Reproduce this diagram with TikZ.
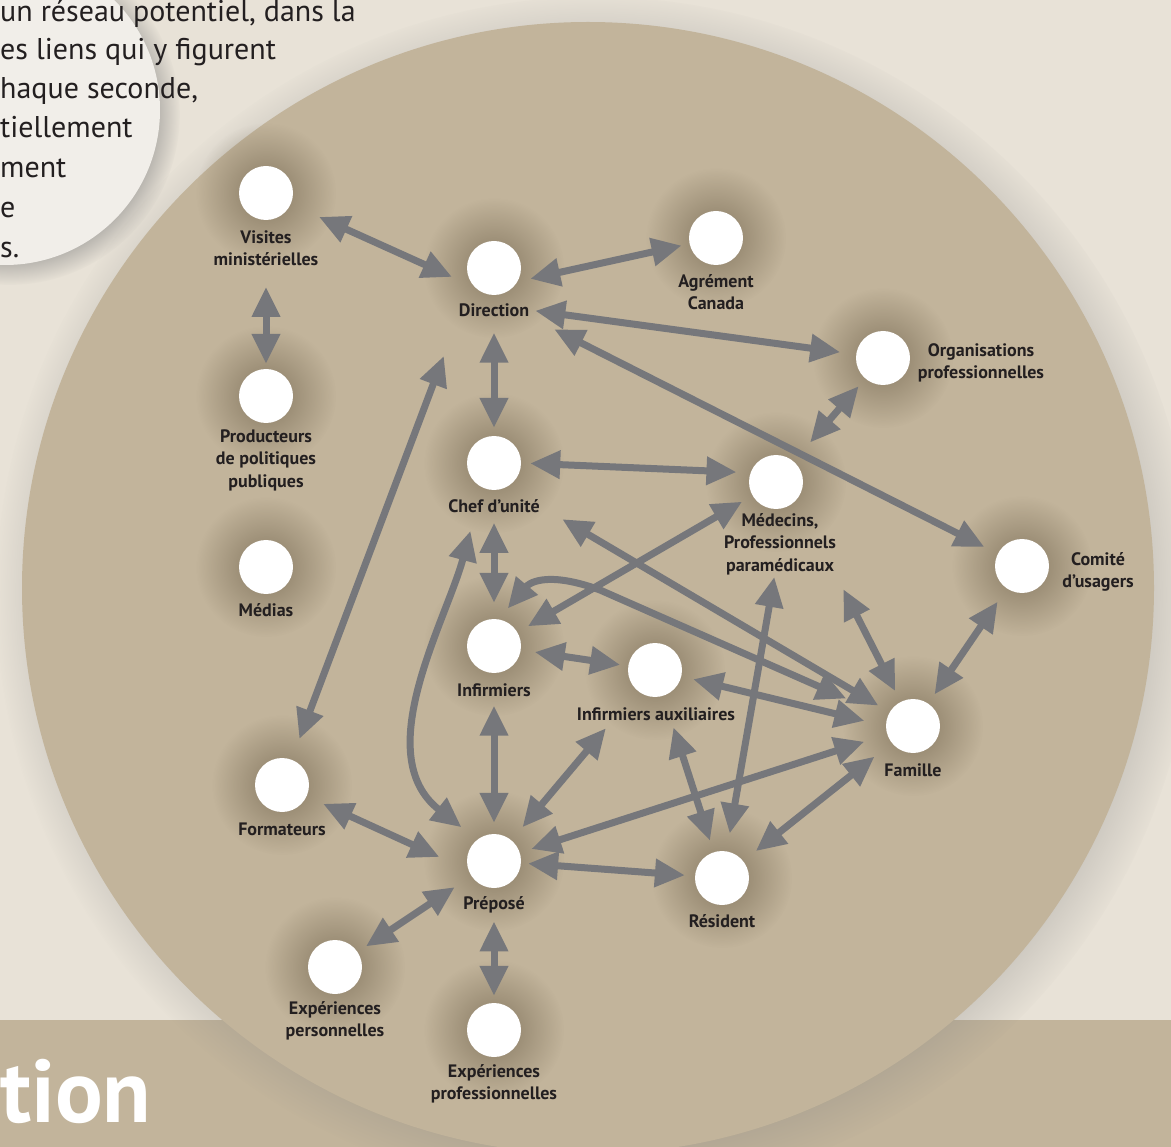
\documentclass[tikz,border=0pt]{standalone}
\usepackage{fontspec}
\setmainfont{PT Sans}
\usetikzlibrary{arrows.meta,shadows,fadings}

\definecolor{paper}{RGB}{232,226,215}
\definecolor{bubble}{RGB}{241,238,233}
\definecolor{sand}{RGB}{194,180,155}
\definecolor{halo}{RGB}{95,82,60}
\definecolor{arrowgray}{RGB}{118,119,123}
\definecolor{ink}{RGB}{35,31,32}

\tikzfading[name=soft halo, inner color=transparent!0, outer color=transparent!100]

\begin{document}
\begin{tikzpicture}[x=1pt, y=-1pt,
    >={Triangle[length=30pt, width=27pt]},
    ball/.style={circle, fill=white, minimum size=54pt, inner sep=0pt,
      general shadow={shadow scale=2.6, fill=halo, opacity=0.6, path fading=soft halo}},
    tag/.style={font=\fontsize{18}{22.5}\selectfont\bfseries, text=ink, align=center, inner sep=0pt},
    link/.style={<->, draw=arrowgray, line width=7pt},
    intro/.style={font=\fontsize{30}{40}\selectfont, text=ink, anchor=base west, inner sep=0pt}]
        % \draw[help lines, gray!40, very thin] (0,0) grid[step=50] (1171,1147);
        \useasboundingbox (0,0) rectangle (1171,1147);
        \clip (0,0) rectangle (1171,1147);

        \fill[paper] (0,0) rectangle (1171,1147);
        \fill[sand] (0,1020) rectangle (1171,1147);
        \node[text=white, font=\fontsize{89}{95}\selectfont\bfseries, anchor=base west, inner sep=0pt] (title) at (0,1122) {tion};

        \fill[bubble, circular drop shadow={shadow scale=1.1, shadow xshift=4pt, shadow yshift=-4pt, opacity=0.5}] (5,110) circle (155);
        \node[intro] (t1) at (0,22) {un réseau potentiel, dans la};
        \node[intro] (t2) at (0,60) {es liens qui y figurent};
        \node[intro] (t3) at (0,99) {haque seconde,};
        \node[intro] (t4) at (0,138) {tiellement};
        \node[intro] (t5) at (0,178) {ment};
        \node[intro] (t6) at (0,218) {e};
        \node[intro] (t7) at (0,258) {s.};

        \fill[sand, circular drop shadow={shadow scale=1.06, shadow xshift=8pt, shadow yshift=-6pt, opacity=0.45}] (588,588) circle (566);

        \node[ball] (vis) at (266,193) {};
        \node[tag] (visl) at (266,248) {Visites\\ministérielles};
        \node[ball] (dir) at (494,268) {};
        \node[tag] (dirl) at (494,310) {Direction};
        \node[ball] (agr) at (716,238) {};
        \node[tag] (agrl) at (716,292) {Agrément\\Canada};
        \node[ball] (org) at (883,358) {};
        \node[tag] (orgl) at (981,363) {Organisations\\professionnelles};
        \node[ball] (prod) at (266,396) {};
        \node[tag] (prodl) at (266,460) {Producteurs\\de politiques\\publiques};
        \node[ball] (chef) at (494,463) {};
        \node[tag] (chefl) at (494,506) {Chef d’unité};
        \node[ball] (med) at (776,482) {};
        \node[tag] (medl) at (780,544) {Médecins,\\Professionnels\\paramédicaux};
        \node[ball] (medias) at (266,567) {};
        \node[tag] (mediasl) at (266,610) {Médias};
        \node[ball] (com) at (1022,566) {};
        \node[tag] (coml) at (1098,572) {Comité\\d’usagers};
        \node[ball] (inf) at (494,646) {};
        \node[tag] (infl) at (494,690) {Infirmiers};
        \node[ball] (aux) at (655,670) {};
        \node[tag] (auxl) at (656,714) {Infirmiers auxiliaires};
        \node[ball] (fam) at (913,726) {};
        \node[tag] (faml) at (913,770) {Famille};
        \node[ball] (form) at (282,785) {};
        \node[tag] (forml) at (282,829) {Formateurs};
        \node[ball] (prep) at (494,861) {};
        \node[tag] (prepl) at (494,905) {Préposé};
        \node[ball] (res) at (722,878) {};
        \node[tag] (resl) at (722,921) {Résident};
        \node[ball] (expe) at (335,967) {};
        \node[tag] (expel) at (335,1021) {Expériences\\personnelles};
        \node[ball] (expr) at (494,1030) {};
        \node[tag] (exprl) at (494,1084) {Expériences\\professionnelles};
        \coordinate (bendpt) at (600,590);

        % direction
        \draw[link, shorten <=31pt, shorten >=25pt] (vis) -- (dir.south west);
        \draw[link, shorten <=21pt, shorten >=5pt] (visl) -- (prod);
        \draw[link, shorten <=13pt, shorten >=8pt] (dir.-30) -- (agr);
        \draw[link, shorten <=6pt, shorten >=16pt] (dirl.east) -- (org);
        \draw[link, shorten <=28pt, shorten >=15pt] (dirl.south east) -- (com);
        \draw[link, shorten <=16pt, shorten >=8pt] (dirl) -- (chef);
        \draw[link, shorten <=42pt, shorten >=22pt] (dirl.south west) -- (form);
        \draw[link, shorten <=10pt, shorten >=25pt] (org) -- (med);

        % chef d'unite, infirmiers
        \draw[link, shorten <=9pt, shorten >=14pt] (chef.east) -- (med.160);
        \draw[link, shorten <=10pt, shorten >=16pt] (chefl) -- (inf);
        \draw[link, shorten <=26pt, shorten >=13pt] (chefl.east) -- (fam);
        \draw[link, shorten <=45pt, shorten >=20pt] (chef.244) to[out=255, in=142] (prep.128);
        \draw[link, shorten <=12pt, shorten >=12pt] (med) -- (inf);
        \draw[link, shorten <=14pt, shorten >=45pt] (inf.80) .. controls +(50:45pt) and +(160:60pt) .. (bendpt) -- (fam.160);
        \draw[link, shorten <=16pt, shorten >=12pt] (medl.south east) -- (fam);
        \draw[link, shorten <=16pt, shorten >=11pt] (com) -- (fam);
        \draw[link, shorten <=14pt, shorten >=8pt] (inf) -- (aux);
        \draw[link, shorten <=12pt, shorten >=22pt] (aux) -- (fam.west);
        \draw[link, shorten <=9pt, shorten >=11pt] (infl) -- (prep);

        % prepose, resident
        \draw[link, shorten <=17pt, shorten >=49pt] (prep) -- (aux);
        \draw[link, shorten <=33pt, shorten >=12pt] (aux) -- (res);
        \draw[link, shorten <=2pt, shorten >=18pt] (medl) -- (res);
        \draw[link, shorten <=24pt, shorten >=12pt] (fam) -- (prep);
        \draw[link, shorten <=22pt, shorten >=16pt] (fam) -- (res);
        \draw[link, shorten <=18pt, shorten >=32pt] (form) -- (prep.200);
        \draw[link, shorten <=7pt, shorten >=10pt] (prep) -- (res);
        \draw[link, shorten <=20pt, shorten >=10pt] (prep) -- (expe);
        \draw[link, shorten <=8pt, shorten >=7pt] (prepl) -- (expr);
      \end{tikzpicture}
\end{document}
